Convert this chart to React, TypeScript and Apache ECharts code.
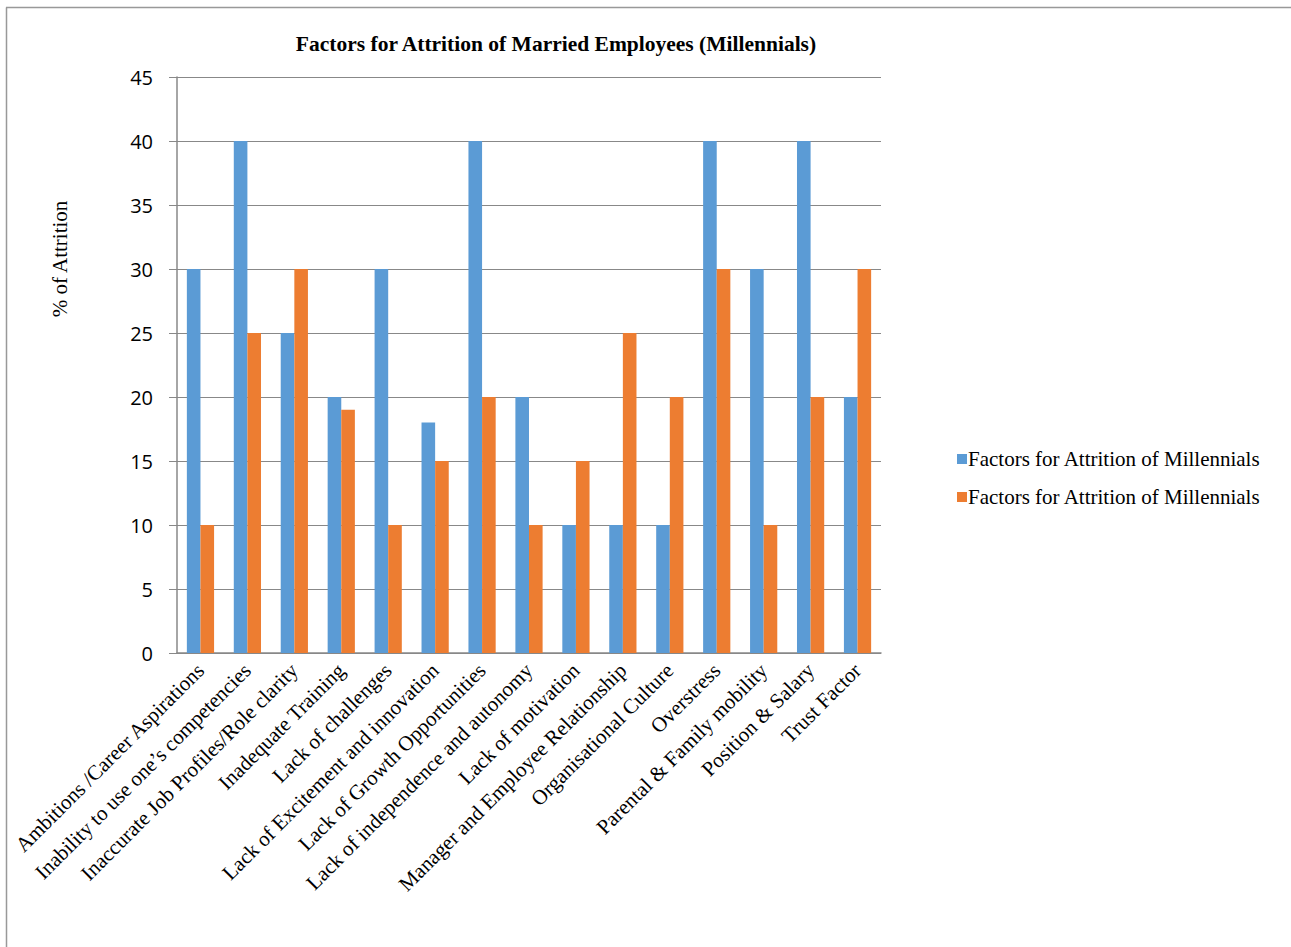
import React, { useEffect, useRef } from "react";
import * as echarts from "echarts";

const categories = [
  "Ambitions /Career Aspirations",
  "Inability to use one\u2019s competencies",
  "Inaccurate Job Profiles/Role clarity",
  "Inadequate Training",
  "Lack of challenges",
  "Lack of Excitement and innovation",
  "Lack of Growth Opportunities",
  "Lack of independence and autonomy",
  "Lack of motivation",
  "Manager and Employee Relationship",
  "Organisational Culture",
  "Overstress",
  "Parental & Family mobility",
  "Position & Salary",
  "Trust Factor",
];
const seriesA = [30, 40, 25, 20, 30, 18, 40, 20, 10, 10, 10, 40, 30, 40, 20];
const seriesB = [10, 25, 30, 19, 10, 15, 20, 10, 15, 25, 20, 30, 10, 20, 30];
const seriesNames = ["Factors for Attrition of Millennials", "Factors for Attrition of Millennials "];

export default function App() {
  const ref = useRef<HTMLDivElement>(null);
  useEffect(() => {
    if (!ref.current) return;
    const chart = echarts.init(ref.current, null, { renderer: "svg" });
    const serif = "'Liberation Serif', 'Times New Roman', serif";
    chart.setOption({
      animation: false,
      backgroundColor: "#fff",
      title: {
        text: "Factors for Attrition of Married Employees (Millennials)",
        left: 551,
        textAlign: "center",
        top: 28,
        textStyle: { fontFamily: serif, fontSize: 21.5, fontWeight: "bold", color: "#000" },
      },
      legend: {
        orient: "vertical",
        left: 952,
        top: 443,
        itemWidth: 10,
        itemHeight: 10,
        itemGap: 16,
        icon: "rect",
        data: seriesNames,
        formatter: (n: string) => n.trim(),
        textStyle: { fontFamily: serif, fontSize: 21, lineHeight: 22, color: "#000", padding: [0, 0, 0, -4] },
      },
      grid: { left: 177, right: 1291 - 881, top: 77, bottom: 947 - 653, containLabel: false },
      xAxis: {
        type: "category",
        data: categories,
        axisLine: { lineStyle: { color: "#888", width: 1.5 } },
        axisTick: { show: false },
        axisLabel: {
          rotate: 45,
          interval: 0,
          margin: 14,
          fontFamily: serif,
          fontSize: 21,
          color: "#000",
        },
      },
      yAxis: {
        type: "value",
        min: 0,
        max: 45,
        interval: 5,
        axisLine: { show: true, lineStyle: { color: "#888", width: 1.5 } },
        axisTick: { show: true, length: 8, lineStyle: { color: "#888" } },
        splitLine: { lineStyle: { color: "#888", width: 1 } },
        axisLabel: {
          margin: 24,
          fontFamily: "'Open Sans', 'Noto Sans', sans-serif",
          fontSize: 20,
          color: "#000",
        },
      },
      series: [
        {
          name: seriesNames[0],
          type: "bar",
          data: seriesA,
          barGap: "0%",
          barCategoryGap: "42%",
          itemStyle: { color: "#5B9BD5" },
        },
        {
          name: seriesNames[1],
          type: "bar",
          data: seriesB,
          barGap: "0%",
          barCategoryGap: "42%",
          itemStyle: { color: "#ED7D31" },
        },
      ],
      graphic: [
        {
          type: "text",
          x: 60,
          y: 259,
          rotation: Math.PI / 2,
          style: {
            text: "% of Attrition",
            fontFamily: serif,
            fontSize: 21,
            fill: "#000",
            align: "center",
            verticalAlign: "middle",
          },
        },
        { type: "line", shape: { x1: 6.5, y1: 7.5, x2: 6.5, y2: 947 }, style: { stroke: "#999", lineWidth: 1.5 } },
        { type: "line", shape: { x1: 6, y1: 7.5, x2: 1291, y2: 7.5 }, style: { stroke: "#999", lineWidth: 1.5 } },
      ],
    });
    return () => chart.dispose();
  }, []);
  return (
    <div
      ref={ref}
      style={{ position: "absolute", left: 0, top: 0, width: 1291, height: 947 }}
    />
  );
}
